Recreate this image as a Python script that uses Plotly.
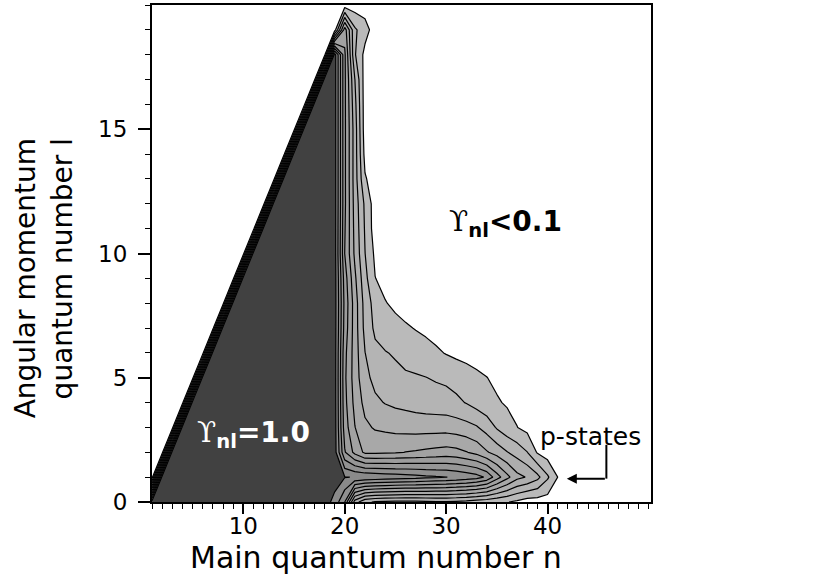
import plotly.graph_objects as go

# ---------------- data ----------------
n_values = list(range(1, 51))          # main quantum number n (grid)
l_values = list(range(0, 21))          # angular momentum quantum number l (grid)

# For n <= 18 every allowed state (l < n) has Upsilon = 1.0, forbidden states (l >= n) are 0
plateau_last_n = 18
plateau_value = 1.0

# Upsilon_nl for n = 19, 20, 21, ... (missing entries are 0)
tail_first_n = 19
tail_l0 = [0.917, 0.75, 0.30, 0.17, 0.14, 0.13, 0.125, 0.12, 0.125, 0.13, 0.135, 0.14, 0.13, 0.12, 0.10, 0.085, 0.07, 0.055, 0.03, 0.0]
tail_l1 = [1.0, 0.955, 0.945, 0.935, 0.925, 0.915, 0.905, 0.895, 0.885, 0.872, 0.861, 0.852, 0.835, 0.815, 0.79, 0.733, 0.595, 0.48, 0.38, 0.342, 0.28, 0.165, 0.05, 0.0]
tail_l2 = [1.0, 0.66, 0.52, 0.43, 0.43, 0.435, 0.44, 0.452, 0.46, 0.47, 0.48, 0.49, 0.48, 0.455, 0.42, 0.36, 0.31, 0.255, 0.21, 0.152, 0.04, 0.0]
tail_l3 = [1.0, 0.60, 0.453, 0.37, 0.34, 0.33, 0.32, 0.315, 0.31, 0.31, 0.31, 0.31, 0.30, 0.285, 0.26, 0.21, 0.14, 0.09, 0.052, 0.02, 0.0]
tail_l4 = [1.0, 0.58, 0.42, 0.32, 0.27, 0.245, 0.23, 0.22, 0.21, 0.20, 0.195, 0.19, 0.172, 0.145, 0.11, 0.08, 0.06, 0.04, 0.02, 0.0]
tail_l5 = [1.0, 0.57, 0.40, 0.28, 0.22, 0.19, 0.175, 0.165, 0.16, 0.152, 0.14, 0.13, 0.11, 0.09, 0.07, 0.052, 0.03, 0.01, 0.0]
tail_l6 = [1.0, 0.58, 0.40, 0.252, 0.175, 0.155, 0.14, 0.115, 0.10, 0.085, 0.065, 0.045, 0.03, 0.02, 0.01, 0.0]
tail_l7 = [1.0, 0.61, 0.40, 0.22, 0.13, 0.10, 0.08, 0.062, 0.045, 0.03, 0.015, 0.0]
tail_l8 = [1.0, 0.62, 0.40, 0.21, 0.11, 0.055, 0.03, 0.01, 0.0]
tail_l9 = [1.0, 0.60, 0.37, 0.18, 0.052, 0.02, 0.0]
tail_l10 = [1.0, 0.55, 0.33, 0.152, 0.03, 0.0]
tail_l11 = [1.0, 0.56, 0.32, 0.14, 0.0]
tail_l12 = [1.0, 0.57, 0.31, 0.13, 0.0]
tail_l13 = [1.0, 0.57, 0.30, 0.06, 0.0]
tail_l14 = [1.0, 0.57, 0.30, 0.02, 0.0]
tail_l15 = [1.0, 0.57, 0.30, 0.0]
tail_l16 = [1.0, 0.57, 0.28, 0.0]
tail_l17 = [1.0, 0.57, 0.252, 0.0]
tail_l18 = [1.0, 0.57, 0.16, 0.02, 0.0]
tail_l19 = [0.0, 0.50, 0.167, 0.09, 0.0]
tail_l20 = [0.0, 0.0]
tails = [tail_l0, tail_l1, tail_l2, tail_l3, tail_l4, tail_l5, tail_l6, tail_l7, tail_l8,
         tail_l9, tail_l10, tail_l11, tail_l12, tail_l13, tail_l14, tail_l15, tail_l16,
         tail_l17, tail_l18, tail_l19, tail_l20]

x_tick_vals = [10, 20, 30, 40]
y_tick_vals = [0, 5, 10, 15]

# grey levels of the filled bands (below 0.05, 0.05-0.15, ..., above 0.95)
band_colors = ["#ffffff", "#bababa", "#b4b4b4", "#aeaeae", "#a8a8a8", "#a2a2a2",
               "#9c9c9c", "#969696", "#909090", "#8a8a8a", "#414141"]

# ---------------- build grid ----------------
z = []
for l, tail in zip(l_values, tails):
    row = []
    for n in n_values:
        if n <= plateau_last_n:
            row.append(plateau_value if l < n else 0.0)
        else:
            k = n - tail_first_n
            row.append(tail[k] if k < len(tail) else 0.0)
    z.append(row)

colorscale = [[i / 10, c] for i, c in enumerate(band_colors)]

fig = go.Figure()
fig.add_trace(go.Contour(
    x=n_values, y=l_values, z=z,
    contours=dict(start=0.05, end=0.95, size=0.1, coloring="fill"),
    colorscale=colorscale, showscale=False,
    line=dict(color="black", width=1.2, smoothing=0),
    hoverinfo="skip",
))

FONT = "DejaVu Sans"
axis_common = dict(showgrid=False, zeroline=False, showline=True, linecolor="black",
                   linewidth=2, mirror=True, ticks="outside", tickcolor="black",
                   tickwidth=2, tickfont=dict(family=FONT, size=23, color="black"))

fig.update_layout(
    width=830, height=574,
    margin=dict(l=152, r=179, t=3, b=72),
    paper_bgcolor="white", plot_bgcolor="white",
    showlegend=False,
    xaxis=dict(range=[1, 50.2], tickvals=x_tick_vals, ticklen=10, ticklabelstandoff=-8,
               minor=dict(dtick=1, tick0=0, ticks="outside", ticklen=5, tickwidth=1, tickcolor="black"),
               **axis_common),
    yaxis=dict(range=[0, 20], tickvals=y_tick_vals, ticklen=12, ticklabelstandoff=6,
               minor=dict(dtick=1, tick0=0, ticks="outside", ticklen=5, tickwidth=1, tickcolor="black"),
               **axis_common),
)

ups = '<span style="font-family:DejaVu Serif">ϒ</span>'
fig.add_annotation(x=0.449, y=-0.112, xref="paper", yref="paper", xanchor="center", yanchor="middle",
                   text="Main quantum number n", showarrow=False,
                   font=dict(family=FONT, size=30, color="black"))
fig.add_annotation(x=-0.2545, y=0.450, xref="paper", yref="paper", xanchor="center", yanchor="middle",
                   text="Angular momentum", textangle=-90, showarrow=False,
                   font=dict(family=FONT, size=28, color="black"))
fig.add_annotation(x=-0.1804, y=0.470, xref="paper", yref="paper", xanchor="center", yanchor="middle",
                   text="quantum number l", textangle=-90, showarrow=False,
                   font=dict(family=FONT, size=28, color="black"))
fig.add_annotation(x=5.2, y=2.7, xref="x", yref="y", xanchor="left", yanchor="middle",
                   text=ups + "<b><sub>nl</sub>=1.0</b>", showarrow=False,
                   font=dict(family=FONT, size=28, color="white"))
fig.add_annotation(x=30.1, y=11.2, xref="x", yref="y", xanchor="left", yanchor="middle",
                   text=ups + "<b><sub>nl</sub>&lt;0.1</b>", showarrow=False,
                   font=dict(family=FONT, size=28, color="black"))
fig.add_annotation(x=39.1, y=2.65, xref="x", yref="y", xanchor="left", yanchor="middle",
                   text="p-states", showarrow=False,
                   font=dict(family=FONT, size=25, color="black"))
fig.add_annotation(x=41.9, y=0.94, ax=45.8, ay=0.94, xref="x", yref="y", axref="x", ayref="y",
                   text="", showarrow=True, arrowhead=2, arrowsize=1, arrowwidth=2, arrowcolor="black")
fig.add_shape(type="line", x0=45.8, y0=0.94, x1=45.8, y1=2.3, xref="x", yref="y",
              line=dict(color="black", width=2))

fig.write_html("out.html", config={"displayModeBar": False},
               post_script="document.body.style.margin='0px';")
